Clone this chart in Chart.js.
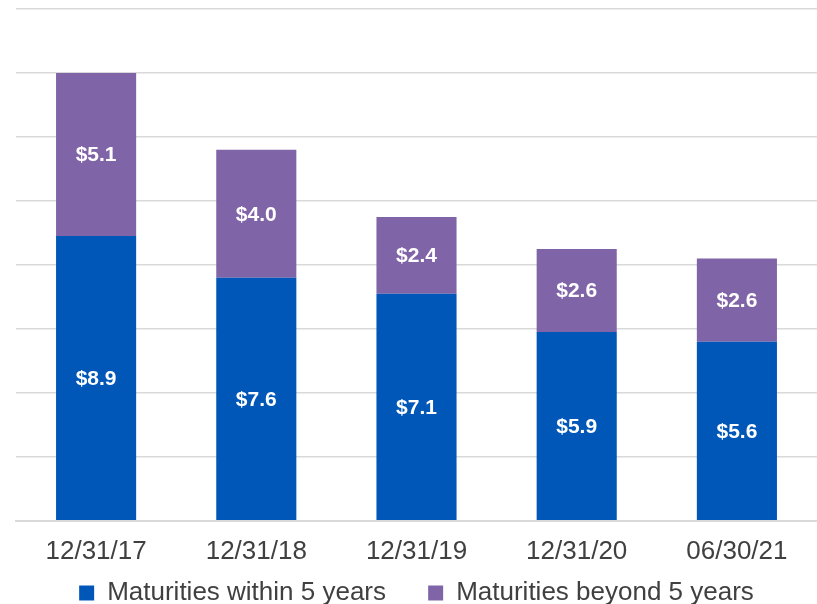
<!doctype html>
<html lang="en">
  <head>
    <meta charset="utf-8">
    <style>
      body { margin: 0; background: #fff; }
      #wrap { width: 817px; height: 604px; }
    </style>
  </head>
  <body>
    <div id="wrap"><canvas id="chart"></canvas></div>
    <script src="https://cdn.jsdelivr.net/npm/chart.js@4.4.1/dist/chart.umd.min.js"></script>
    <script>
      // chart data
      const categories = ["12/31/17", "12/31/18", "12/31/19", "12/31/20", "06/30/21"];
      const within5 = [8.9, 7.6, 7.1, 5.9, 5.6];
      const beyond5 = [5.1, 4.0, 2.4, 2.6, 2.6];
      const seriesNames = ["Maturities within 5 years", "Maturities beyond 5 years"];

      const fontFamily = "'Liberation Sans', Arial, sans-serif";

      //draw the "$x.x" labels in the middle of each segment
      const segmentLabels = {
        id: "segmentLabels",
        afterDatasetsDraw(chart) {
          const ctx = chart.ctx;
          ctx.save();
          ctx.font = "bold 21px " + fontFamily;
          ctx.fillStyle = "#ffffff";
          ctx.textAlign = "center";
          ctx.textBaseline = "middle";
          chart.data.datasets.forEach((ds, i) => {
            chart.getDatasetMeta(i).data.forEach((bar, j) => {
              const mid = (bar.y + bar.base) / 2;
              ctx.fillText("$" + ds.data[j].toFixed(1), bar.x, mid + 1);
            });
          });
          ctx.restore();
        }
      };

      new Chart(document.getElementById("chart"), {
        type: "bar",
        plugins: [segmentLabels],
        data: {
          labels: categories,
          datasets: [
            { label: seriesNames[0], data: within5, backgroundColor: "#0057b8" },
            { label: seriesNames[1], data: beyond5, backgroundColor: "#8064a8" }
          ]
        },
        options: {
          responsive: true,
          maintainAspectRatio: false,
          animation: false,
          layout: { padding: { left: 16, top: 9, right: 0, bottom: -12 } },
          datasets: {
            bar: { categoryPercentage: 1, barPercentage: 0.5 }
          },
          scales: {
            x: {
              stacked: true,
              grid: { display: false },
              border: { display: true, color: "#d9d9d9", width: 2 },
              ticks: {
                color: "#404040",
                font: { family: fontFamily, size: 26 },
                padding: 7
              }
            },
            y: {
              stacked: true,
              min: 0,
              max: 16,
              ticks: { display: false, stepSize: 2 },
              grid: { color: "#d9d9d9", lineWidth: 1.5, drawTicks: false },
              border: { display: false }
            }
          },
          plugins: {
            tooltip: { enabled: false },
            legend: {
              position: "bottom",
              labels: {
                color: "#404040",
                boxWidth: 15,
                boxHeight: 15,
                padding: 6,
                font: { family: fontFamily, size: 26 },
                // wider gap between the two legend entries
                generateLabels(chart) {
                  const items = Chart.defaults.plugins.legend.labels.generateLabels(chart);
                  items[0].text = items[0].text + "     ";
                  return items;
                }
              }
            }
          }
        }
      });
    </script>
  </body>
</html>
